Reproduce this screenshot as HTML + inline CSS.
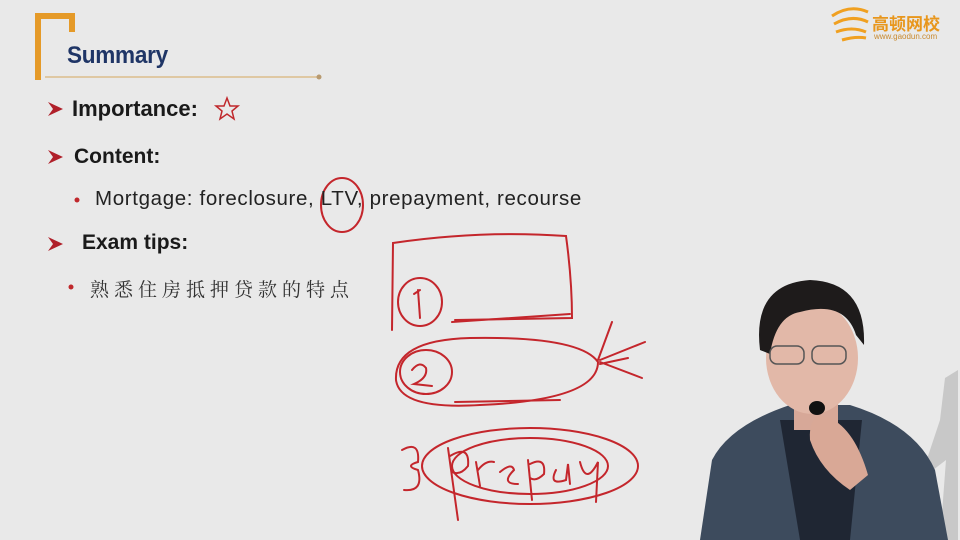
<!DOCTYPE html>
<html><head><meta charset="utf-8"><style>
html,body{margin:0;padding:0;background:#e9e9e9;}
#slide{position:relative;width:960px;height:540px;overflow:hidden;background:#e9e9e9;font-family:"Liberation Sans","Noto Sans CJK SC",sans-serif;}
.t{position:absolute;white-space:nowrap;color:#1a1a1a;}
</style></head><body>
<div id="slide">
<svg width="960" height="540" style="position:absolute;left:0;top:0">
  <path d="M38,80 V16 H72 V32" fill="none" stroke="#e59a28" stroke-width="6"/>
  <line x1="45" y1="77" x2="318" y2="77" stroke="#d9b47a" stroke-width="1.2"/>
  <circle cx="319" cy="77" r="2.5" fill="#b89a70"/>
  <g fill="#b0202a">
    <path d="M48,102 L63,109 L48,116 L53,109 Z"/>
    <path d="M48,150 L63,157 L48,164 L53,157 Z"/>
    <path d="M48,237 L63,244 L48,251 L53,244 Z"/>
  </g>
  <circle cx="77" cy="200" r="2.5" fill="#c0282c"/>
  <circle cx="71" cy="287" r="2.5" fill="#c0282c"/>
  <polygon points="227,98 230,106 238,106 232,111 234,119 227,114 220,119 222,111 216,106 224,106" fill="none" stroke="#c0282c" stroke-width="1.5"/>
  <g>
    <path d="M832,16 Q850,4 868,12 M834,24 Q852,14 868,22 M836,32 Q852,26 866,32 M842,40 Q856,36 866,38" fill="none" stroke="#f0a020" stroke-width="3"/>
  </g>
  <g fill="none" stroke="#c4262c" stroke-width="2" stroke-linecap="round">
    <ellipse cx="342" cy="205" rx="21" ry="27"/>
    <path d="M392,330 L393,243 Q480,230 566,236 Q572,280 572,318 L455,320"/>
    <path d="M452,322 L570,314"/>
    <ellipse cx="420" cy="302" rx="22" ry="24"/>
    <path d="M418,290 L420,318 M414,294 L420,290"/>
    <path d="M396,380 Q394,340 470,338 Q580,336 598,362 Q598,400 480,405 Q400,410 396,380"/>
    <ellipse cx="426" cy="372" rx="26" ry="22"/>
    <path d="M412,370 Q420,360 426,368 Q428,378 414,384 L432,386"/>
    <path d="M598,360 L612,322 M600,360 L645,342 M600,362 L642,378 M600,364 L628,358"/>
    <path d="M455,402 L560,400"/>
    <ellipse cx="530" cy="466" rx="108" ry="38"/>
    <ellipse cx="530" cy="466" rx="78" ry="28"/>
    <path d="M402,450 Q420,440 418,462 Q404,466 418,470 Q424,492 404,490"/>
    <path d="M448,448 L458,520 M450,456 Q470,444 468,466 Q460,476 452,472"/>
    <path d="M476,462 L480,486 M478,470 Q486,460 494,462"/>
    <path d="M500,472 Q512,462 514,470 Q500,484 518,484"/>
    <path d="M528,460 L532,500 M530,464 Q546,456 544,474 Q536,482 530,478"/>
    <path d="M556,470 Q548,486 566,480 L568,464 L570,484"/>
    <path d="M580,462 Q586,486 598,462 L596,502"/>
  </g>
  <path d="M945,378 L958,370 L958,540 L940,540 L946,460 L920,480 L940,420 Z" fill="#c8c8c8"/>
  <g>
    <path d="M700,540 L712,460 Q730,425 790,405 L850,405 Q915,425 935,470 L948,540 Z" fill="#3d4b5d"/>
    <path d="M780,420 L800,540 L850,540 L862,420 Z" fill="#1f2633"/>
    <rect x="794" y="395" width="44" height="35" fill="#d7a898"/>
    <ellipse cx="812" cy="358" rx="46" ry="56" fill="#e2b8a8"/>
    <path d="M760,350 Q752,284 810,280 Q866,282 864,345 L856,335 Q845,300 800,312 Q776,316 770,354 Z" fill="#1e1b1b"/>
    <rect x="770" y="346" width="34" height="18" rx="7" fill="none" stroke="#555" stroke-width="1.5"/>
    <rect x="812" y="346" width="34" height="18" rx="7" fill="none" stroke="#555" stroke-width="1.5"/>
    <ellipse cx="817" cy="408" rx="8" ry="7" fill="#111"/>
    <path d="M810,440 Q808,410 830,418 Q855,430 868,475 L850,490 Q820,470 810,440 Z" fill="#d9a896"/>
  </g>
</svg>
<div class="t" style="left:67px;top:42px;font-size:24px;font-weight:bold;color:#1f3566;letter-spacing:-0.3px;transform:scaleX(0.94);transform-origin:left">Summary</div>
<div class="t" style="left:72px;top:96px;font-size:22px;font-weight:bold">Importance:</div>
<div class="t" style="left:74px;top:145px;font-size:21px;font-weight:bold">Content:</div>
<div class="t" style="left:95px;top:187px;font-size:20.5px;color:#222;letter-spacing:0.65px">Mortgage: foreclosure, LTV, prepayment, recourse</div>
<div class="t" style="left:82px;top:231px;font-size:21px;font-weight:bold">Exam tips:</div>
<div class="t" style="left:90px;top:275px;font-size:19px;color:#333;letter-spacing:5px;font-family:'Noto Serif CJK SC','Noto Sans CJK SC',serif">熟悉住房抵押贷款的特点</div>
<div class="t" style="left:872px;top:10px;font-size:17px;font-weight:bold;color:#e8961c">高顿网校</div>
<div class="t" style="left:874px;top:32px;font-size:8px;color:#c88a30">www.gaodun.com</div>
</div>
</body></html>
